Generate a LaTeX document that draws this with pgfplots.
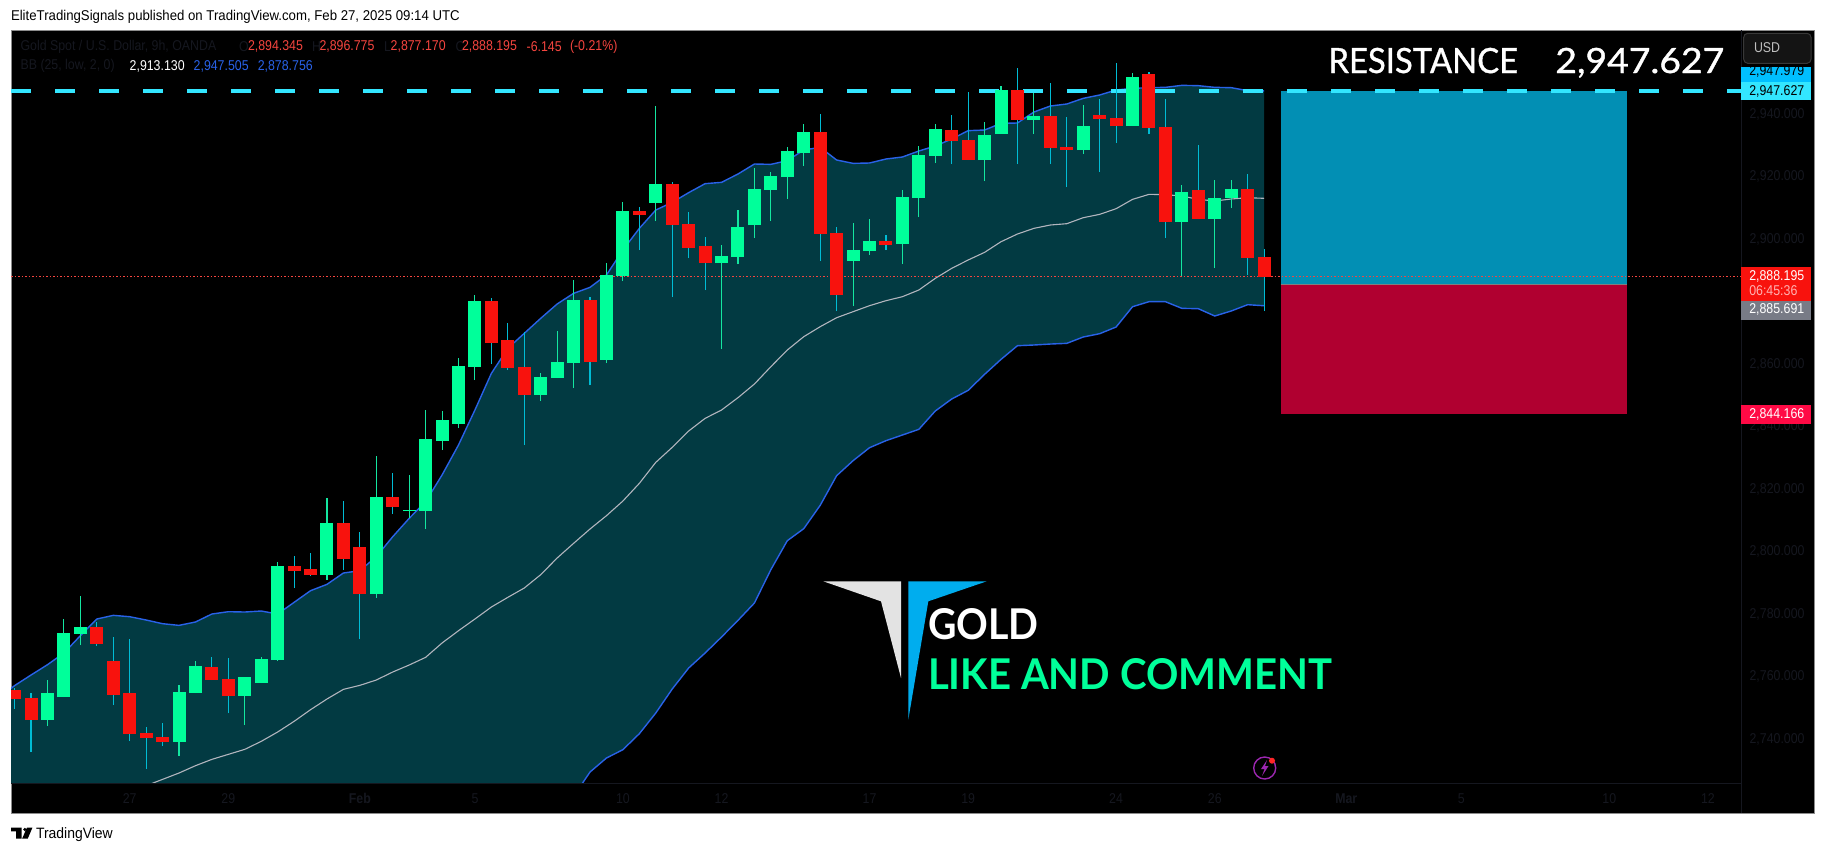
\documentclass[border=0pt]{standalone}
\usepackage{fontspec}
\usepackage{graphicx}
\usepackage{pgfplots}
\usepackage{pgfplotstable}
\pgfplotsset{compat=1.18}
\setmainfont{Liberation Sans}
\newfontfamily\smallf[FakeStretch=0.87]{Liberation Sans}
\newfontfamily\headf[FakeStretch=0.93]{Liberation Sans}
\newfontfamily\bigf{Lato}
\newfontfamily\resf[FakeBold=1]{Lato}
\newcommand\fs[1]{\fontsize{#1}{#1}\selectfont}
\newcommand\st{\smallf\fs{7.1}}

\definecolor{upcol}{HTML}{00FF9A}
\definecolor{downcol}{HTML}{F8120D}
\definecolor{upwick}{HTML}{14E6A0}
\definecolor{downwick}{HTML}{00BCD4}
\definecolor{bbfill}{HTML}{023A42}
\definecolor{bbline}{HTML}{2962E8}
\definecolor{bbmid}{HTML}{B2B5BE}
\definecolor{dim}{HTML}{15171F}
\definecolor{legred}{HTML}{F5453F}
\definecolor{resline}{HTML}{33E6FF}
\definecolor{boxblue}{HTML}{028FB4}
\definecolor{boxred}{HTML}{B00030}
\definecolor{logoblue}{HTML}{00ADEE}
\definecolor{lblblue}{HTML}{00BFFF}
\definecolor{lblgrey}{HTML}{787B86}
\definecolor{lblred}{HTML}{FF0A45}
\definecolor{bolt}{HTML}{9C27B0}

% candles: bar index, open, high, low, close
\pgfplotstableread{
i open high low close
2 2746.19 2758.99 2744.27 2754.83
3 2753.55 2778.51 2753.55 2774.03
4 2773.71 2785.87 2770.19 2775.95
10 2739.15 2757.39 2734.67 2755.15
11 2754.83 2765.07 2754.83 2763.47
14 2753.87 2759.95 2744.59 2759.95
15 2758.03 2766.35 2758.03 2765.71
16 2765.39 2796.75 2765.07 2795.47
19 2792.59 2817.23 2790.99 2809.23
22 2786.51 2830.67 2785.23 2817.55
24 2813.18 2824.59 2810.83 2813.28
25 2813.07 2845.39 2807.31 2836.11
26 2835.47 2845.07 2832.59 2842.19
27 2840.91 2862.03 2839.63 2859.47
28 2859.15 2882.19 2854.99 2880.27
32 2850.19 2857.23 2848.27 2855.95
33 2855.63 2870.67 2855.63 2860.75
34 2860.43 2886.99 2852.43 2880.59
36 2861.39 2892.43 2860.43 2888.59
37 2888.27 2911.95 2886.67 2909.07
39 2911.63 2942.67 2905.87 2917.71
43 2892.43 2898.19 2864.91 2894.67
44 2894.35 2909.39 2892.11 2903.95
45 2904.59 2922.83 2900.43 2916.11
46 2915.79 2921.55 2905.87 2920.27
47 2919.95 2929.55 2912.91 2928.27
48 2927.63 2936.91 2923.47 2934.35
51 2893.07 2905.23 2878.67 2896.59
52 2896.27 2906.51 2894.99 2899.47
54 2898.51 2915.79 2892.11 2913.55
55 2913.23 2929.87 2907.15 2926.99
56 2926.67 2936.91 2924.43 2935.31
59 2925.39 2937.55 2918.67 2933.39
60 2933.71 2949.07 2933.71 2947.79
62 2938.19 2946.83 2933.71 2939.47
65 2928.59 2942.99 2927.31 2936.27
68 2936.27 2953.23 2936.27 2951.95
71 2905.55 2917.39 2888.27 2915.15
73 2906.51 2918.99 2890.83 2913.23
74 2913.23 2918.99 2910.03 2916.11
}\upbars

\pgfplotstableread{
i open high low close
0 2755.79 2756.43 2749.71 2752.91
1 2753.23 2754.83 2735.95 2746.19
5 2775.95 2777.55 2769.87 2770.51
6 2765.07 2772.75 2750.99 2754.19
7 2754.83 2772.11 2739.47 2741.71
8 2742.03 2743.95 2730.51 2740.43
9 2740.75 2745.23 2737.87 2739.15
12 2763.15 2766.35 2758.99 2758.99
13 2759.31 2766.03 2748.43 2753.87
17 2795.47 2798.67 2788.43 2793.87
18 2794.51 2799.63 2792.27 2792.59
20 2809.23 2816.27 2794.19 2797.71
21 2801.55 2806.35 2772.11 2786.51
23 2817.55 2825.23 2812.11 2814.35
29 2880.27 2881.23 2860.11 2866.83
30 2867.79 2873.23 2858.19 2858.83
31 2859.15 2870.35 2834.19 2850.19
35 2880.59 2881.55 2853.39 2860.75
38 2909.07 2910.35 2896.59 2907.79
40 2917.71 2918.35 2881.55 2904.59
41 2904.91 2908.75 2894.03 2897.23
42 2897.87 2900.75 2883.79 2892.43
49 2934.35 2940.11 2893.07 2901.71
50 2902.03 2903.95 2877.07 2882.19
53 2899.47 2901.39 2896.59 2898.19
57 2934.99 2939.79 2924.11 2931.47
58 2931.79 2947.15 2925.39 2925.39
61 2947.79 2954.83 2924.11 2938.19
63 2939.47 2950.03 2924.11 2929.23
64 2929.55 2939.15 2916.75 2928.59
66 2939.79 2944.91 2921.55 2938.51
67 2938.83 2956.43 2930.83 2936.27
69 2952.91 2953.55 2933.71 2935.63
70 2935.95 2944.91 2900.43 2905.55
72 2915.79 2930.19 2906.51 2906.51
75 2916.11 2920.91 2888.59 2894.03
76 2894.35 2896.91 2877.07 2887.95
}\downbars

% Bollinger bands
\pgfplotstableread{
i y
-1 2753.10
0 2757.20
1 2760.59
2 2763.89
3 2767.63
4 2773.17
5 2778.51
6 2779.68
7 2779.25
8 2778.19
9 2777.01
10 2776.48
11 2777.55
12 2780.11
13 2780.85
14 2780.75
15 2781.07
16 2780.11
17 2783.84
18 2787.57
19 2789.60
20 2793.23
21 2793.97
22 2798.45
23 2804.85
24 2810.72
25 2816.05
26 2824.59
27 2834.19
28 2845.39
29 2857.12
30 2865.12
31 2869.92
32 2874.72
33 2879.31
34 2882.72
35 2884.64
36 2888.59
37 2896.59
38 2903.52
39 2909.39
40 2911.84
41 2914.94
42 2917.82
43 2918.24
44 2920.91
45 2924.11
46 2924.00
47 2925.18
48 2928.59
49 2929.44
50 2925.39
51 2924.32
52 2924.43
53 2925.71
54 2926.35
55 2928.27
56 2929.87
57 2932.11
58 2934.78
59 2934.99
60 2937.12
61 2937.23
62 2940.75
63 2942.67
64 2943.31
65 2945.12
66 2946.19
67 2947.79
68 2948.32
69 2948.54
70 2948.64
71 2949.28
72 2949.18
73 2948.64
74 2948.54
75 2947.58
76 2947.51
}\bbup

\pgfplotstableread{
i y
8 2725.17
9 2727.20
10 2729.23
11 2731.57
12 2733.60
13 2735.20
14 2736.80
15 2739.36
16 2742.35
17 2745.76
18 2749.49
19 2752.91
20 2756.00
21 2757.28
22 2758.99
23 2761.55
24 2763.79
25 2766.24
26 2770.83
27 2774.77
28 2778.51
29 2782.35
30 2785.44
31 2788.43
32 2792.69
33 2798.03
34 2802.72
35 2807.31
36 2811.57
37 2816.27
38 2821.92
39 2828.64
40 2833.44
41 2838.67
42 2842.72
43 2845.39
44 2849.33
45 2853.71
46 2859.25
47 2864.59
48 2868.85
49 2872.05
50 2874.93
51 2876.85
52 2878.77
53 2880.37
54 2881.65
55 2883.79
56 2887.52
57 2890.72
58 2893.39
59 2895.84
60 2899.25
61 2901.71
62 2903.52
63 2904.59
64 2905.01
65 2906.93
66 2908.00
67 2909.81
68 2912.80
69 2914.40
70 2914.30
71 2913.87
72 2912.80
73 2912.27
74 2912.91
75 2913.33
76 2913.13
}\bbmid

% lower band, below the visible range up to bar 34
\pgfplotstableread{
i y
-1 2720
33 2720
34 2721.75
35 2729.55
36 2734.03
37 2736.70
38 2741.81
39 2748.43
40 2756.11
41 2762.83
42 2767.63
43 2772.75
44 2778.08
45 2783.63
46 2794.30
47 2803.57
48 2807.41
49 2814.88
50 2824.37
51 2829.17
52 2833.33
53 2835.57
54 2837.39
55 2839.20
56 2845.07
57 2848.91
58 2851.68
59 2856.80
60 2861.60
61 2865.97
62 2866.19
63 2866.50
64 2866.72
65 2868.75
66 2869.81
67 2871.95
68 2878.45
69 2880.05
70 2880.05
71 2877.92
72 2877.81
73 2875.47
74 2877.07
75 2879.09
76 2878.76
}\bblow

\pgfplotstablesort[sort key=i, sort cmp=int >]{\bblowrev}{\bblow}
\pgfplotstablevertcat{\bbpoly}{\bbup}
\pgfplotstablevertcat{\bbpoly}{\bblowrev}

\pgfplotsset{
  wick/.style={draw=none, mark=none, forget plot, error bars/.cd, y dir=plus, y explicit,
    error mark=none, error bar style={draw=#1, line width=0.55pt}},
  body/.style={draw=none, mark=none, forget plot, error bars/.cd, y dir=plus, y explicit,
    error mark=none, error bar style={draw=#1, line width=6.5pt}},
}

\begin{document}
\begin{tikzpicture}
% one tikz unit is one pixel of the reference, y running down
\begin{scope}[x=0.5pt, y=-0.5pt]
\useasboundingbox (0,0) rectangle (1825,853);
\fill[white] (0,0) rectangle (1825,853);
\fill[black, draw=black!45, line width=0.5pt] (11,30) rectangle (1814,813);
\end{scope}

\begin{axis}[
    at={(5.5pt,-391.5pt)}, anchor=south west,
    scale only axis, width=865pt, height=376.5pt,
    xmin=-0.219, xmax=105.01,
    ymin=2726.03, ymax=2966.99,
    axis line style={draw=none},
    major tick length=0pt,
    xtick={7,13,21,28,37,43,52,58,67,73,81,88,97,103},
    xticklabels={27,29,\textbf{Feb},5,10,12,17,19,24,26,\textbf{Mar},5,10,12},
    ytick={2740,2760,...,2940},
    yticklabel pos=right,
    /pgf/number format/assume math mode=true,
    /pgf/number format/fixed, /pgf/number format/fixed zerofill,
    /pgf/number format/precision=3, /pgf/number format/1000 sep={,},
    tick label style={font=\st, text=dim, inner sep=0pt},
    yticklabel style={anchor=west, xshift=4.1pt},
    xticklabel style={anchor=center, yshift=-7.6pt},
    clip=true,
]
\addplot[fill=bbfill, draw=none, forget plot] table[x=i, y=y] {\bbpoly};
\addplot[bbmid, line width=0.55pt] table[x=i, y=y] {\bbmid};
\addplot[bbline, line width=0.7pt] table[x=i, y=y] {\bbup};
\addplot[bbline, line width=0.7pt] table[x=i, y=y] {\bblow};

% long and short position boxes
\addplot[fill=boxblue, draw=none] coordinates {(77.01,2947.627) (98.08,2947.627) (98.08,2885.691) (77.01,2885.691)};
\addplot[fill=boxred, draw=none] coordinates {(77.01,2885.691) (98.08,2885.691) (98.08,2844.166) (77.01,2844.166)};
\addplot[black!50, line width=0.4pt] coordinates {(77.01,2885.691) (98.08,2885.691)};

\addplot[resline, line width=2pt, dash pattern=on 10pt off 12pt] coordinates {(-0.219,2947.627) (105.01,2947.627)};
\addplot[legred, line width=0.5pt, dash pattern=on 0.75pt off 1pt] coordinates {(-0.219,2888.195) (105.01,2888.195)};

\addplot[wick=upwick] table[x=i, y=low, y error plus expr=\thisrow{high}-\thisrow{low}] {\upbars};
\addplot[wick=downwick] table[x=i, y=low, y error plus expr=\thisrow{high}-\thisrow{low}] {\downbars};
\addplot[body=upcol] table[x=i, y=open, y error plus expr=\thisrow{close}-\thisrow{open}] {\upbars};
\addplot[body=downcol] table[x=i, y=close, y error plus expr=\thisrow{open}-\thisrow{close}] {\downbars};
\end{axis}

\begin{scope}[x=0.5pt, y=-0.5pt, every node/.style={inner sep=0pt, outer sep=0pt}]
% separators of the price and time scales
\draw[dim, line width=0.4pt] (1741,30) -- (1741,813);
\draw[dim, line width=0.4pt] (11,783) -- (1741,783);

% header and footer
\node[anchor=west, text=black] at (11,16.7) {\headf\fs{7.1}EliteTradingSignals published on TradingView.com, Feb 27, 2025 09:14 UTC};
\fill[black] (11,827.7) rectangle (21.7,831.3) (16.2,831.3) rectangle (21.7,838.7);
\fill[black] (24.9,829.5) circle (1.8);
\fill[black] (32.4,827.7) -- (27.7,838.7) -- (22.1,838.7) -- (26.9,827.7) -- cycle;
\node[anchor=west, text=black] at (36,834.7) {\headf\fs{7.5}TradingView};

% indicator legend
\begin{scope}[every node/.append style={anchor=west}]
\node[text=dim] at (20.6,46.7) {\st Gold Spot / U.S. Dollar, 9h, OANDA};
\node[text=dim] at (239,46.7) {\st O};
\node[text=legred] at (248,46.7) {\st 2,894.345};
\node[text=dim] at (312,46.7) {\st H};
\node[text=legred] at (319.5,46.7) {\st 2,896.775};
\node[text=dim] at (384,46.7) {\st L};
\node[text=legred] at (390.7,46.7) {\st 2,877.170};
\node[text=dim] at (455.5,46.7) {\st C};
\node[text=legred] at (462,46.7) {\st 2,888.195};
\node[text=legred] at (526.7,46.7) {\st -6.145};
\node[text=legred] at (570,46.7) {\st (-0.21\%)};
\node[text=dim] at (20.6,66) {\st BB (25, low, 2, 0)};
\node[text=white] at (129.7,66) {\st 2,913.130};
\node[text=bbline] at (193.7,66) {\st 2,947.505};
\node[text=bbline] at (257.8,66) {\st 2,878.756};
\end{scope}

% big labels
\node[anchor=base west, text=white] at (1328.4,73) {\resizebox{94.8pt}{12.6pt}{\resf\fs{17.5}RESISTANCE}};
\node[anchor=base west, text=white] at (1555.3,73) {\resizebox{84.5pt}{12.6pt}{\resf\fs{17.5}2,947.627}};
\node[anchor=base west, text=white] at (928,639) {\resizebox{55.3pt}{15.5pt}{\bigf\bfseries\fs{21.5}GOLD}};
\node[anchor=base west, text=upcol] at (928,689) {\resizebox{202pt}{15.5pt}{\bigf\bfseries\fs{21.5}LIKE AND COMMENT}};

% watermark
\fill[black!11] (823.3,581.3) -- (901,581.3) -- (901,678) -- (881,601.3) -- cycle;
\fill[logoblue] (908.3,581.3) -- (986.7,581.3) -- (928.3,601.3) -- (908.3,719.7) -- cycle;

% price scale labels
\fill[lblblue] (1741,67.3) rectangle (1811,81.7);
\begin{scope}
\clip (1741,67.3) rectangle (1811,81.7);
\node[anchor=west, text=black] at (1749.3,71.7) {\st 2,947.979};
\end{scope}
\fill[resline] (1741,82) rectangle (1811,100.3);
\node[anchor=west, text=black] at (1749.3,91) {\st 2,947.627};
\fill[downcol] (1741,267.3) rectangle (1811,300.7);
\node[anchor=west, text=white] at (1749.3,276) {\st 2,888.195};
\node[anchor=west, text=red!30!white] at (1749.3,290.7) {\st 06:45:36};
\fill[lblgrey] (1741,301) rectangle (1811,320);
\node[anchor=west, text=white] at (1749.3,309.5) {\st 2,885.691};
\fill[lblred] (1741,405) rectangle (1811,424);
\node[anchor=west, text=white] at (1749.3,414) {\st 2,844.166};

% currency button
\fill[black!92, draw=black!78, rounded corners=2pt, line width=0.5pt] (1743.7,33.3) rectangle (1811,63.3);
\node[anchor=west, text=black!25] at (1754,48) {\st USD};

% bolt icon
\draw[bolt, line width=0.7pt] (1264.7,768) circle (11);
\fill[bolt] (1267,760) -- (1261,769) -- (1264.5,769) -- (1262,776) -- (1268.5,766) -- (1265,766) -- cycle;
\fill[red!85!white] (1272,760.7) circle (3);
\end{scope}
\end{tikzpicture}
\end{document}
